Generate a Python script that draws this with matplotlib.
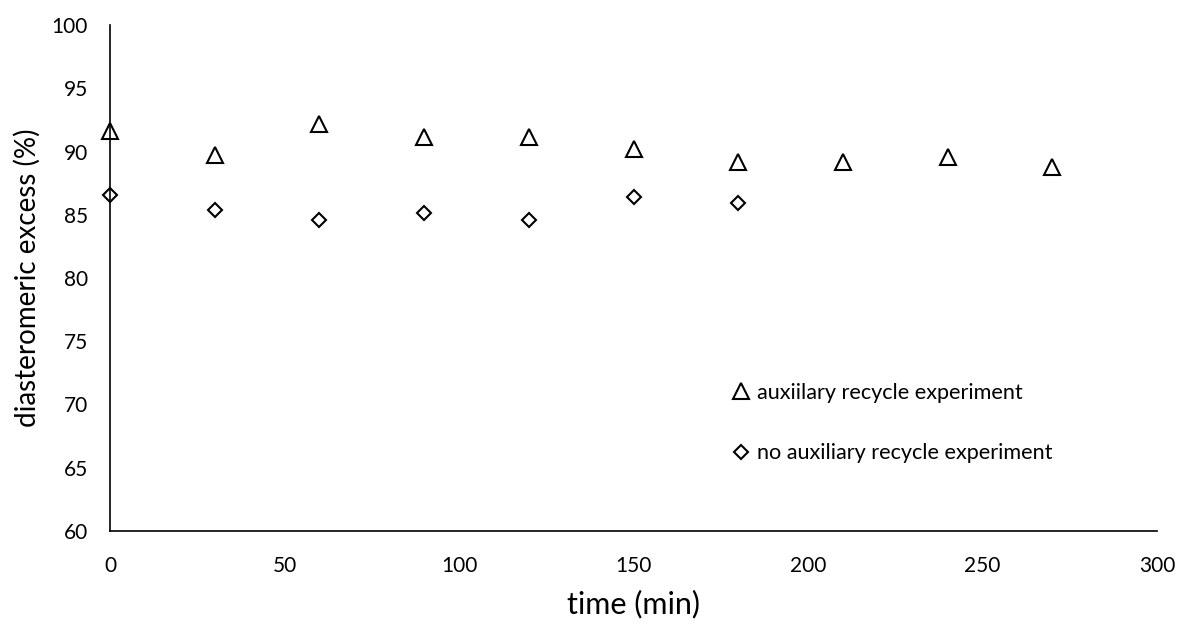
import matplotlib
matplotlib.use("Agg")
import matplotlib.pyplot as plt

# Data
time_aux = [0, 30, 60, 90, 120, 150, 180, 210, 240, 270]
de_aux = [91.6, 89.75, 92.15, 91.15, 91.15, 90.2, 89.2, 89.15, 89.6, 88.75]

time_noaux = [0, 30, 60, 90, 120, 150, 180]
de_noaux = [86.6, 85.35, 84.55, 85.15, 84.55, 86.4, 85.95]

x_ticks = [0, 50, 100, 150, 200, 250, 300]
y_ticks = [60, 65, 70, 75, 80, 85, 90, 95, 100]

plt.rcParams['font.family'] = ['Lato', 'DejaVu Sans']

fig = plt.figure(figsize=(11.79, 6.24), dpi=100)
ax = fig.add_axes([110 / 1179, 1 - 531 / 624, (1157 - 110) / 1179, (531 - 25) / 624])

ax.plot(time_aux, de_aux, linestyle="none", marker="^", markersize=11,
        markerfacecolor="none", markeredgecolor="black", markeredgewidth=1.5,
        label="auxiilary recycle experiment", clip_on=False)
ax.plot(time_noaux, de_noaux, linestyle="none", marker="D", markersize=7.5,
        markerfacecolor="none", markeredgecolor="black", markeredgewidth=1.5,
        label="no auxiliary recycle experiment", clip_on=False)

ax.set_xlim(0, 300)
ax.set_ylim(60, 100)
ax.set_xticks(x_ticks)
ax.set_yticks(y_ticks)

for side in ["top", "right"]:
    ax.spines[side].set_visible(False)
for side in ["left", "bottom"]:
    ax.spines[side].set_linewidth(1.2)
    ax.spines[side].set_color("black")

ax.tick_params(axis="both", length=0, labelsize=15)
ax.tick_params(axis="y", pad=16)
ax.tick_params(axis="x", pad=18)

ax.set_xlabel("time (min)", fontsize=22, labelpad=10)
ax.set_ylabel("diasteromeric excess (%)", fontsize=20, labelpad=8)

ax.legend(loc="upper left", bbox_to_anchor=(731 / 1179, 1 - 383 / 624),
          bbox_transform=fig.transFigure, frameon=False, fontsize=15.6,
          handlelength=0.9, handletextpad=0.3, labelspacing=1.85,
          borderaxespad=0, borderpad=0)

fig.savefig("out.png", dpi=100)
